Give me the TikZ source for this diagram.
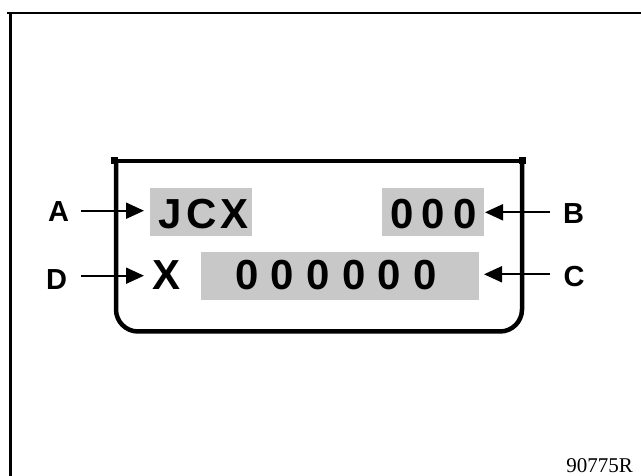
\documentclass[tikz,border=0pt]{standalone}
\usepackage{fontspec}
\setmainfont{Liberation Sans}
\newfontfamily\serifr{Liberation Serif}
\usetikzlibrary{arrows.meta}
\definecolor{lcdgray}{RGB}{200,200,200}
\tikzset{
  bigtxt/.style={font=\fontsize{42}{42}\selectfont\bfseries, inner sep=0pt, anchor=base west},
  lbltxt/.style={font=\fontsize{29}{29}\selectfont\bfseries, inner sep=0pt, anchor=base west},
  arr/.style={line width=2pt, -{Triangle[length=18pt,width=16pt]}},
  field/.style={fill=lcdgray, draw=none},
  frame/.style={line width=2.7pt},
  panel/.style={line width=4.5pt},
}
\begin{document}
\begin{tikzpicture}[x=1pt,y=-1pt]
\useasboundingbox (0,0) rectangle (641,476);
% outer frame
\draw[frame] (6.7,13) -- (641,13);
\draw[frame] (10.3,11.7) -- (10.3,476);
% display fields
\fill[field] (150,188) rectangle (252,236);
\fill[field] (382,188) rectangle (484,236);
\fill[field] (201,252) rectangle (479,300);
% panel
\draw[panel] (111,161) -- (525,161);
\fill (111,157.3) rectangle (118.3,164.5);
\fill (518.5,157.3) rectangle (525.5,164.5);
\draw[panel, rounded corners=22pt] (116,161) -- (116,331.5) -- (522,331.5) -- (522,161);
% texts
\node[bigtxt] (jcx) at (158,228.5) {J\hspace{4.5pt}C\hspace{4.5pt}X};
\node[bigtxt] (num3) at (390,228.5) {0\hspace{8.3pt}0\hspace{8.3pt}0};
\node[bigtxt] (x) at (152.5,290) {X};
\node[bigtxt] (num6) at (235,290) {0\hspace{12.3pt}0\hspace{12.3pt}0\hspace{12.3pt}0\hspace{12.3pt}0\hspace{12.3pt}0};
% labels
\node[lbltxt] (A) at (48,221.7) {A};
\node[lbltxt] (D) at (46,290) {D};
\node[lbltxt] (B) at (563,224) {B};
\node[lbltxt] (C) at (563.5,286.5) {C};
% arrows
\coordinate (aS) at (80.7,210.7); \coordinate (aT) at (144,210.7);
\coordinate (dS) at (80.7,275.7); \coordinate (dT) at (144,275.7);
\coordinate (bS) at (550,212.3); \coordinate (bT) at (485,212.3);
\coordinate (cS) at (550,274.3); \coordinate (cT) at (484,274.3);
\draw[arr] (aS) -- (aT);
\draw[arr] (dS) -- (dT);
\draw[arr] (bS) -- (bT);
\draw[arr] (cS) -- (cT);
% figure number
\node[font=\serifr\fontsize{21}{21}\selectfont, inner sep=0pt, anchor=base east] (fig) at (633,472) {90775R};
\end{tikzpicture}
\end{document}
